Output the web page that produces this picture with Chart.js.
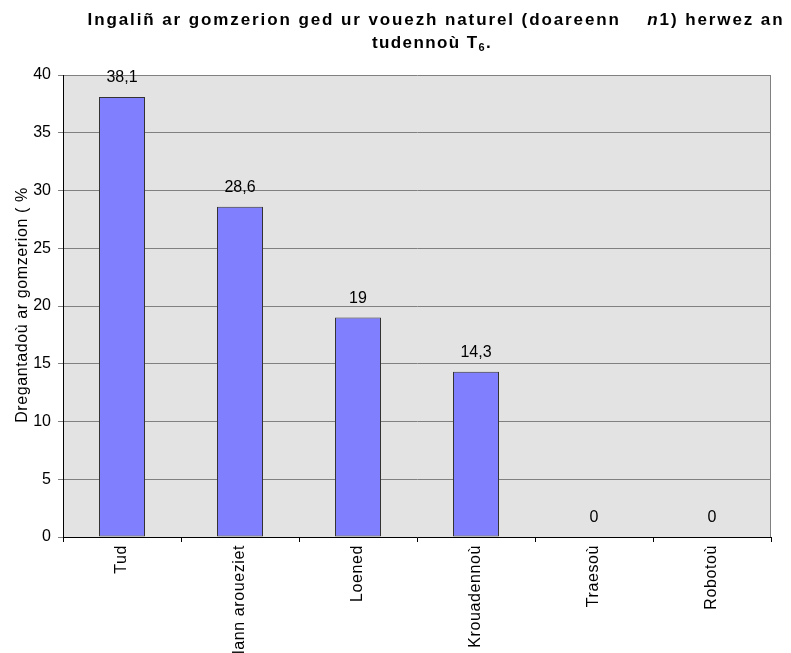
<!DOCTYPE html>
<html>
<head>
<meta charset="utf-8">
<script src="https://cdn.jsdelivr.net/npm/chart.js@4/dist/chart.umd.min.js"></script>
<style>
  html, body { margin: 0; padding: 0; background: #fff; }
  #wrap { width: 791px; height: 653px; }
</style>
</head>
<body>
<div id="wrap"><canvas id="gomzerionChart" width="791" height="653"></canvas></div>
<script>
const categories = ["Tud", "Plann aroueziet", "Loened", "Krouadennoù", "Traesoù", "Robotoù"];
const values = [38.1, 28.6, 19, 14.3, 0, 0];
const valueLabels = ["38,1", "28,6", "19", "14,3", "0", "0"];
const yTicks = [0, 5, 10, 15, 20, 25, 30, 35, 40];

const FONT = "'Liberation Sans', Arial, sans-serif";

// grey plot background, titles and value labels
const decorPlugin = {
  id: "decor",
  beforeDraw(chart) {
    const { ctx, chartArea: a } = chart;
    ctx.save();
    ctx.fillStyle = "#e3e3e3";
    ctx.fillRect(a.left, a.top, a.right - a.left, a.bottom - a.top);
    ctx.restore();
    ctx.letterSpacing = "0px";
  },
  afterDatasetsDraw(chart) {
    // the category labels are drawn after this (ticks.z: 1), with spread letters
    chart.ctx.letterSpacing = "0.6px";
  },
  afterDraw(chart) {
    const { ctx, chartArea: a } = chart;
    ctx.save();
    ctx.fillStyle = "#000";
    ctx.textBaseline = "middle";

    // right border of the plot
    ctx.strokeStyle = "#808080";
    ctx.lineWidth = 1;
    ctx.beginPath();
    ctx.moveTo(a.right - 0.5, a.top);
    ctx.lineTo(a.right - 0.5, a.bottom);
    ctx.stroke();

    // title, line 1 with italic "n"
    const bold = "bold 17px " + FONT;
    const boldIt = "italic bold 17px " + FONT;
    ctx.letterSpacing = "1.9px";
    const parts = [
      [bold, "Ingaliñ ar gomzerion ged ur vouezh naturel (doareenn    "],
      [boldIt, "n"],
      [bold, "1) herwez an"]
    ];
    let w = 0;
    parts.forEach(p => { ctx.font = p[0]; w += ctx.measureText(p[1]).width; });
    let x = 436 - w / 2;
    ctx.textAlign = "left";
    parts.forEach(p => { ctx.font = p[0]; ctx.fillText(p[1], x, 20); x += ctx.measureText(p[1]).width; });

    // title, line 2 with subscript 6
    ctx.letterSpacing = "1.4px";
    ctx.font = bold;
    const t1 = "tudennoù T";
    const w1 = ctx.measureText(t1).width;
    ctx.font = "bold 11px " + FONT;
    const w2 = ctx.measureText("6").width;
    ctx.font = bold;
    const w3 = ctx.measureText(".").width;
    x = 432 - (w1 + w2 + w3) / 2;
    ctx.fillText(t1, x, 43);
    ctx.font = "bold 11px " + FONT;
    ctx.fillText("6", x + w1, 48);
    ctx.font = bold;
    ctx.fillText(".", x + w1 + w2, 43);

    // y axis title
    ctx.letterSpacing = "0.6px";
    ctx.font = "16px " + FONT;
    ctx.textBaseline = "alphabetic";
    ctx.translate(27, 305);
    ctx.rotate(-Math.PI / 2);
    ctx.textAlign = "center";
    ctx.fillText("Dregantadoù ar gomzerion ( %", 0, 0);
    ctx.setTransform(1, 0, 0, 1, 0, 0);

    // value labels above the bars
    ctx.letterSpacing = "0px";
    ctx.textBaseline = "middle";
    const meta = chart.getDatasetMeta(0);
    const y = chart.scales.y;
    ctx.font = "16px " + FONT;
    ctx.textAlign = "center";
    meta.data.forEach((bar, i) => {
      ctx.fillText(valueLabels[i], bar.x, y.getPixelForValue(values[i]) - 19);
    });
    ctx.restore();
    ctx.letterSpacing = "0px";
  }
};

new Chart(document.getElementById("gomzerionChart"), {
  type: "bar",
  data: {
    labels: categories,
    datasets: [{
      data: values,
      backgroundColor: "#8080ff",
      borderColor: "#333333",
      borderWidth: 1,
      borderSkipped: false,
      categoryPercentage: 1,
      barPercentage: 0.39
    }]
  },
  options: {
    responsive: false,
    animation: false,
    layout: { padding: { top: 75, right: 20, left: 0, bottom: 0 } },
    plugins: {
      legend: { display: false },
      tooltip: { enabled: false },
      title: { display: false }
    },
    scales: {
      x: {
        afterFit: (s) => { s.height = 116; },
        grid: {
          offset: true,
          drawOnChartArea: false,
          drawTicks: true,
          tickLength: 5,
          color: "#000"
        },
        border: { color: "#000", width: 1 },
        ticks: {
          z: 1,
          minRotation: 90,
          maxRotation: 90,
          autoSkip: false,
          padding: 3,
          color: "#000",
          font: { family: FONT, size: 16 }
        }
      },
      y: {
        min: 0,
        max: 40,
        afterFit: (s) => { s.width = 63; },
        afterBuildTicks: (s) => { s.ticks = yTicks.map(v => ({ value: v })); },
        grid: {
          color: "#808080",
          tickLength: 5,
          drawTicks: true
        },
        border: { color: "#000", width: 1 },
        ticks: {
          padding: 7,
          color: "#000",
          font: { family: FONT, size: 16 }
        }
      }
    }
  },
  plugins: [decorPlugin]
});
</script>
</body>
</html>
